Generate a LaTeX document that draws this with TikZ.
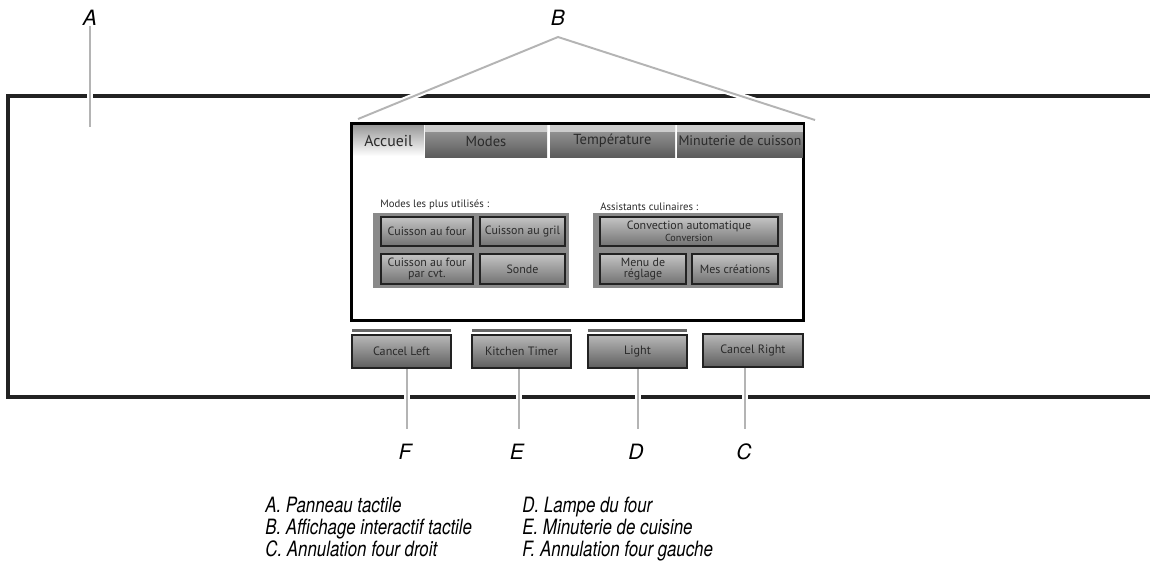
\documentclass[tikz,border=0pt]{standalone}
\usepackage{fontspec}
\setmainfont{TeX Gyre Heros}
\newfontfamily\legendfont{TeX Gyre Heros}[FakeStretch=0.8]
\newfontfamily\uifont{PT Sans}
\usepackage{xcolor}
\usetikzlibrary{positioning}

\definecolor{framegray}{HTML}{222222}
\definecolor{leadgray}{HTML}{B4B4B4}
\definecolor{uitext}{HTML}{2A2A2A}
\definecolor{btntop}{HTML}{B8B8B8}
\definecolor{btnbot}{HTML}{5E5E5E}
\definecolor{grpfill}{HTML}{8A8A8A}
\definecolor{keytop}{HTML}{C4C4C4}
\definecolor{keybot}{HTML}{727272}

\begin{document}
\begin{tikzpicture}[
  x=0.02cm,
  y=-0.02cm,
  wh/.style 2 args={minimum width=#1*0.02cm, minimum height=#2*0.02cm, inner sep=0pt},
  frame/.style={draw=framegray, line width=2pt},
  leader/.style={draw=leadgray, line width=1.1pt,
    preaction={draw=white, line width=3.4pt}},
  letter/.style={font=\fontsize{12}{13}\selectfont\itshape, inner sep=0pt},
  legend/.style={font=\legendfont\fontsize{12}{13}\selectfont\itshape, inner sep=0pt, anchor=base west},
  screen/.style={draw=black, line width=1pt, fill=white},
  tab/.style={draw=none, top color=#1, bottom color=black!64, text=uitext,
    font=\uifont\fontsize{8.3}{9}\selectfont,
    path picture={\fill[black!20] (path picture bounding box.north west)
      rectangle ([yshift=-0.13cm]path picture bounding box.north east);}},
  hometab/.style={draw=none, top color=black!40, bottom color=white, text=uitext,
    font=\uifont\fontsize{9}{10}\selectfont},
  group/.style={fill=grpfill, draw=none},
  grouptitle/.style={anchor=west, inner sep=0pt, text=uitext,
    font=\uifont\fontsize{6.1}{7}\selectfont},
  key/.style={draw=framegray, line width=0.6pt, top color=keytop, bottom color=keybot,
    text=uitext, align=center, font=\uifont\fontsize{6.8}{6.5}\selectfont},
  hwkey/.style={draw=framegray, line width=0.8pt, top color=btntop, bottom color=btnbot,
    text=uitext, font=\uifont\fontsize{6.9}{7}\selectfont},
  hwbar/.style={draw=none, fill=black!60}
]
  \useasboundingbox (0,0) rectangle (1150,569);

  % panel outline, open to the right
  \draw[frame] (1150,96) -- (8,96) -- (8,397) -- (1150,397);

  % callouts on top
  \node[letter] (A) at (90,18) {A};
  \coordinate (apanel) at (90,127);
  \draw[leader] (A.south) ++(0,-0.12) -- (apanel);

  \node[letter] (B) at (558,18) {B};
  \coordinate (bleft) at (358,119);
  \coordinate (bright) at (815,120);
  \draw[leader] (bleft) -- (558,37) -- (bright);

  % touch display
  \node[screen, wh={451}{196}] (disp) at (577.5,222) {};
  \node[hometab, wh={71}{31}] (tacc) at (388.5,140.5) {Accueil};
  \node[tab=black!38, wh={122}{32}] (tmod) at (486,141) {Modes};
  \node[tab=black!38, wh={125}{32}] (ttemp) at (612.5,141) {Température};
  \node[tab=black!38, wh={126}{32}, font=\uifont\fontsize{7.9}{9}\selectfont] (tmin) at (740,141) {Minuterie de cuisson};
  \draw[black, line width=1pt] (disp.north west) rectangle (disp.south east);

  \node[grouptitle] (tmodes) at (380,205) {Modes les plus utilisés :};
  \node[group, wh={196}{75}] (grpl) at (471,250.5) {};
  \node[key, wh={92}{29}] (bfour) at (427,231.5) {Cuisson au four};
  \node[key, wh={85}{29}] (bgril) at (522.5,231.5) {Cuisson au gril};
  \node[key, wh={92}{30}] (bcvt) at (427,269) {Cuisson au four\\par cvt.};
  \node[key, wh={85}{30}] (bsonde) at (522.5,269) {Sonde};

  \node[grouptitle] (tassist) at (600,207) {Assistants culinaires :};
  \node[group, wh={190}{75}] (grpr) at (688,250.5) {};
  \node[key, wh={178}{29}] (bconv) at (689,231.5)
    {Convection automatique\\{\fontsize{5.8}{6}\selectfont Conversion}};
  \node[key, wh={86}{30}] (bmenu) at (643,269) {Menu de\\réglage};
  \node[key, wh={86}{30}] (bmes) at (735,269) {Mes créations};

  % hardware keys
  \node[hwbar, wh={99}{2.5}] (barl) at (401.5,330.5) {};
  \node[hwbar, wh={99}{2.5}] (bart) at (521.5,330.5) {};
  \node[hwbar, wh={99}{2.5}] (barg) at (637.5,330.5) {};
  \node[hwkey, wh={99}{33}] (kleft) at (401.5,351.5) {Cancel Left};
  \node[hwkey, wh={99}{33}] (ktimer) at (521.5,351.5) {Kitchen Timer};
  \node[hwkey, wh={99}{33}] (klight) at (637.5,351.5) {Light};
  \node[hwkey, wh={100}{33}] (kright) at (753,350.5) {Cancel Right};

  % callouts below
  \node[letter] (F) at (405,452) {F};
  \node[letter] (E) at (517,452) {E};
  \node[letter] (D) at (636,452) {D};
  \node[letter] (C) at (744,452) {C};
  \draw[leader] ([xshift=0.04cm, yshift=0.3cm]F.north) -- ([xshift=0.04cm]F.north |- kleft.south);
  \draw[leader] ([xshift=0.04cm, yshift=0.3cm]E.north) -- ([xshift=0.04cm]E.north |- ktimer.south);
  \draw[leader] ([xshift=0.04cm, yshift=0.3cm]D.north) -- ([xshift=0.04cm]D.north |- klight.south);
  \draw[leader] ([xshift=0.02cm, yshift=0.3cm]C.north) -- ([xshift=0.02cm]C.north |- kright.south);

  % legend
  \node[legend] (la) at (265,512.5) {A. Panneau tactile};
  \node[legend] (lb) at (265,534.5) {B. Affichage interactif tactile};
  \node[legend] (lc) at (265,556.5) {C. Annulation four droit};
  \node[legend] (ld) at (522,512.5) {D. Lampe du four};
  \node[legend] (le) at (522,534.5) {E. Minuterie de cuisine};
  \node[legend] (lf) at (522,556.5) {F. Annulation four gauche};
\end{tikzpicture}
\end{document}
